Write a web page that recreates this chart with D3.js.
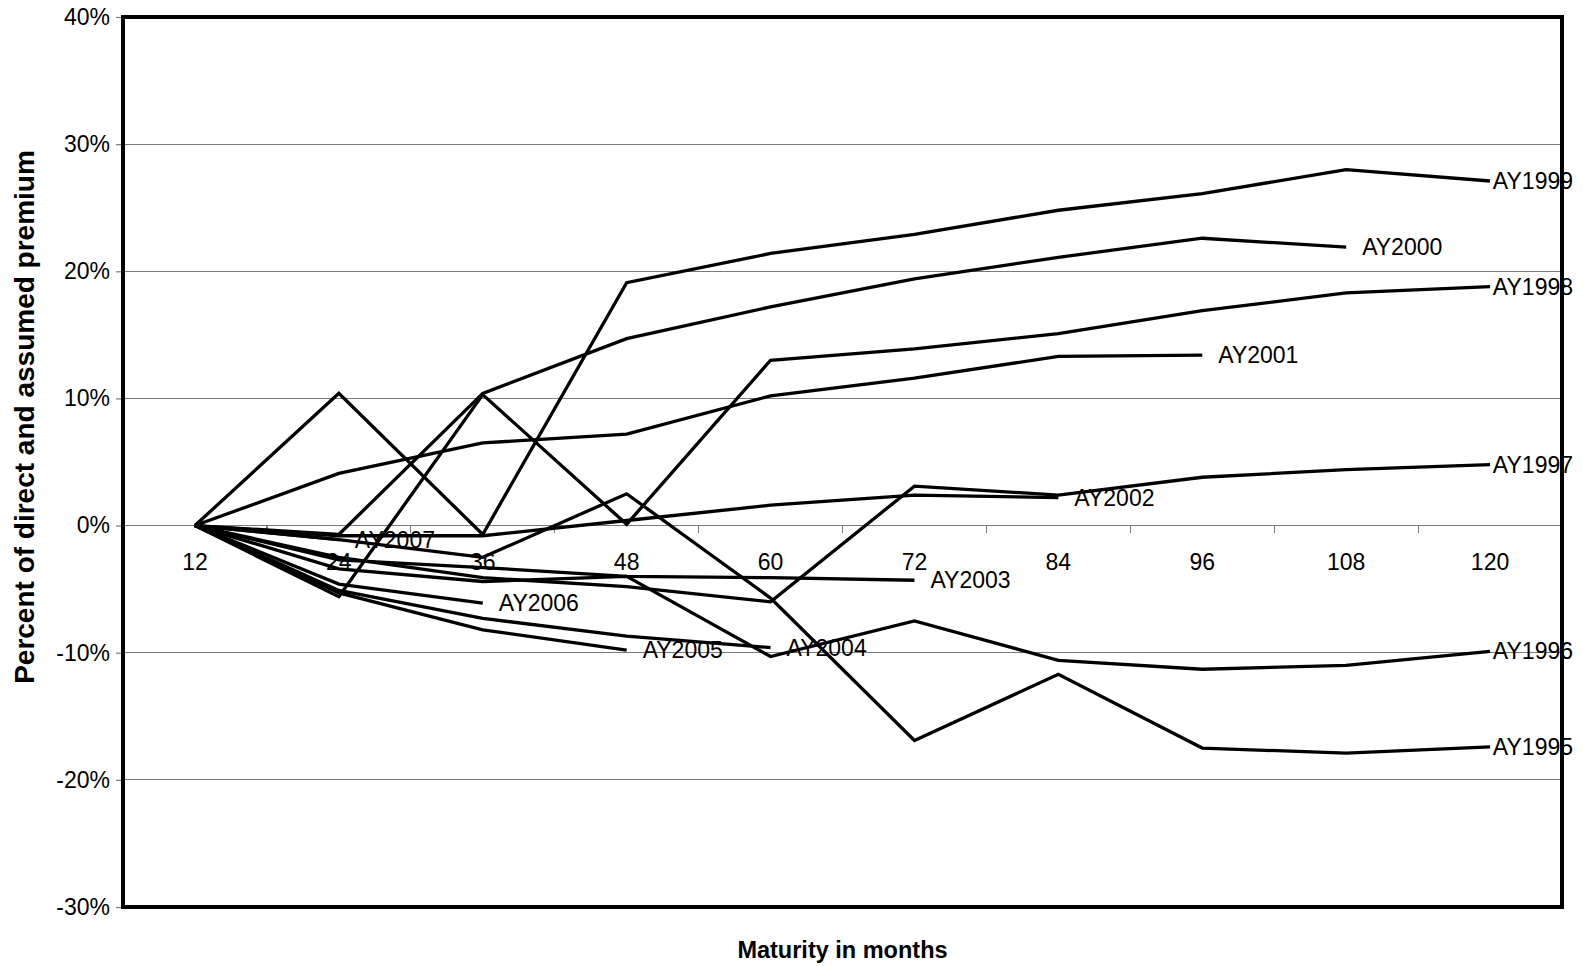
<!DOCTYPE html>
<html>
<head>
<meta charset="utf-8">
<script src="https://cdn.jsdelivr.net/npm/d3@7"></script>
<style>
  html, body { margin: 0; padding: 0; background: #fff; }
  svg { display: block; font-family: "Liberation Sans", Arial, sans-serif; }
</style>
</head>
<body>
<svg id="chart" width="1583" height="966"></svg>
<script>
// ---- data (percent of direct and assumed premium) ----
const months = ["12", "24", "36", "48", "60", "72", "84", "96", "108", "120"];
const yTicks = [-30, -20, -10, 0, 10, 20, 30, 40];

const AY1995 = [0, -1.1, -2.5, 2.5, -5.7, -16.9, -11.7, -17.5, -17.9, -17.4];
const AY1996 = [0, -3.4, -4.4, -4.0, -10.3, -7.5, -10.6, -11.3, -11.0, -9.9];
const AY1997 = [0, -2.5, -4.1, -4.8, -6.0, 3.1, 2.4, 3.8, 4.4, 4.8];
const AY1998 = [0, -5.6, 10.3, 0.1, 13.0, 13.9, 15.1, 16.9, 18.3, 18.8];
const AY1999 = [0, 10.4, -0.7, 19.1, 21.4, 22.9, 24.8, 26.1, 28.0, 27.1];
const AY2000 = [0, -0.7, 10.4, 14.7, 17.2, 19.4, 21.1, 22.6, 21.9];
const AY2001 = [0, 4.1, 6.5, 7.2, 10.2, 11.6, 13.3, 13.4];
const AY2002 = [0, -0.8, -0.8, 0.4, 1.6, 2.4, 2.2];
const AY2003 = [0, -2.7, -3.3, -4.0, -4.1, -4.3];
const AY2004 = [0, -5.1, -7.3, -8.7, -9.6];
const AY2005 = [0, -5.3, -8.2, -9.8];
const AY2006 = [0, -4.6, -6.1];
const AY2007 = [0, -1.1];

const seriesNames = ["AY1995", "AY1996", "AY1997", "AY1998", "AY1999", "AY2000",
                     "AY2001", "AY2002", "AY2003", "AY2004", "AY2005", "AY2006", "AY2007"];
const seriesValues = [AY1995, AY1996, AY1997, AY1998, AY1999, AY2000,
                      AY2001, AY2002, AY2003, AY2004, AY2005, AY2006, AY2007];

const xTitle = "Maturity in months";
const yTitle = "Percent of direct and assumed premium";

// ---- layout ----
const W = 1583, H = 966;
const plot = { left: 123, right: 1562, top: 17, bottom: 907 };
const FONT = 23;

const svg = d3.select("#chart");

const x = d3.scaleBand().domain(months).range([plot.left, plot.right]).padding(0);
const xc = m => x(m) + x.bandwidth() / 2;
const y = d3.scaleLinear().domain([-30, 40]).range([plot.bottom, plot.top]);

// gridlines
svg.append("g")
  .selectAll("line")
  .data(yTicks)
  .join("line")
  .attr("x1", plot.left).attr("x2", plot.right)
  .attr("y1", d => y(d)).attr("y2", d => y(d))
  .attr("stroke", "#7a7a7a").attr("stroke-width", 1.2)
  .attr("shape-rendering", "crispEdges");

// y axis
const yAxis = svg.append("g")
  .attr("transform", `translate(${plot.left},0)`)
  .call(d3.axisLeft(y).tickValues(yTicks).tickFormat(d => d + "%")
        .tickSize(7).tickPadding(6).tickSizeOuter(0));
yAxis.select(".domain").remove();
yAxis.selectAll(".tick line").attr("stroke", "#7a7a7a").attr("stroke-width", 1.2);
yAxis.selectAll(".tick text").attr("font-size", FONT).attr("fill", "#000")
  .attr("font-family", "Liberation Sans, Arial, sans-serif");

// x axis (labels at category centres, crossing at 0%)
const xAxis = svg.append("g")
  .attr("transform", `translate(0,${y(0)})`)
  .call(d3.axisBottom(x).tickSize(0).tickPadding(28).tickSizeOuter(0));
xAxis.select(".domain").remove();
xAxis.selectAll(".tick text").attr("font-size", FONT).attr("fill", "#000")
  .attr("font-family", "Liberation Sans, Arial, sans-serif");

// x tick marks at category boundaries
const boundaries = months.map(m => x(m)).concat([x(months[months.length - 1]) + x.bandwidth()]);
svg.append("g")
  .selectAll("line")
  .data(boundaries)
  .join("line")
  .attr("x1", d => d).attr("x2", d => d)
  .attr("y1", y(0)).attr("y2", y(0) + 7)
  .attr("stroke", "#7a7a7a").attr("stroke-width", 1.2)
  .attr("shape-rendering", "crispEdges");

// series lines
const line = d3.line()
  .x((d, i) => xc(months[i]))
  .y(d => y(d));

svg.append("g")
  .selectAll("path")
  .data(seriesValues)
  .join("path")
  .attr("d", d => line(d))
  .attr("fill", "none")
  .attr("stroke", "#000")
  .attr("stroke-width", 3.3)
  .attr("stroke-linejoin", "miter")
  .attr("stroke-linecap", "butt");

// end labels
const labelG = svg.append("g");
seriesValues.forEach((vals, i) => {
  const last = vals.length - 1;
  const px = xc(months[last]);
  const py = y(vals[last]);
  const t = labelG.append("text")
    .attr("x", px + 16)
    .attr("y", py)
    .attr("dy", "0.35em")
    .attr("font-size", FONT)
    .attr("fill", "#000")
    .text(seriesNames[i]);
  const w = t.node().getComputedTextLength();
  if (px + 16 + w > W - 10) t.attr("x", W - 10 - w);
});

// plot border
svg.append("rect")
  .attr("x", plot.left).attr("y", plot.top)
  .attr("width", plot.right - plot.left).attr("height", plot.bottom - plot.top)
  .attr("fill", "none").attr("stroke", "#000").attr("stroke-width", 4);

// axis titles
svg.append("text")
  .attr("x", (plot.left + plot.right) / 2)
  .attr("y", 958)
  .attr("text-anchor", "middle")
  .attr("font-size", 23.5).attr("font-weight", "bold")
  .text(xTitle);

svg.append("text")
  .attr("transform", `translate(34,417) rotate(-90)`)
  .attr("text-anchor", "middle")
  .attr("font-size", 28).attr("font-weight", "bold")
  .text(yTitle);
</script>
</body>
</html>
